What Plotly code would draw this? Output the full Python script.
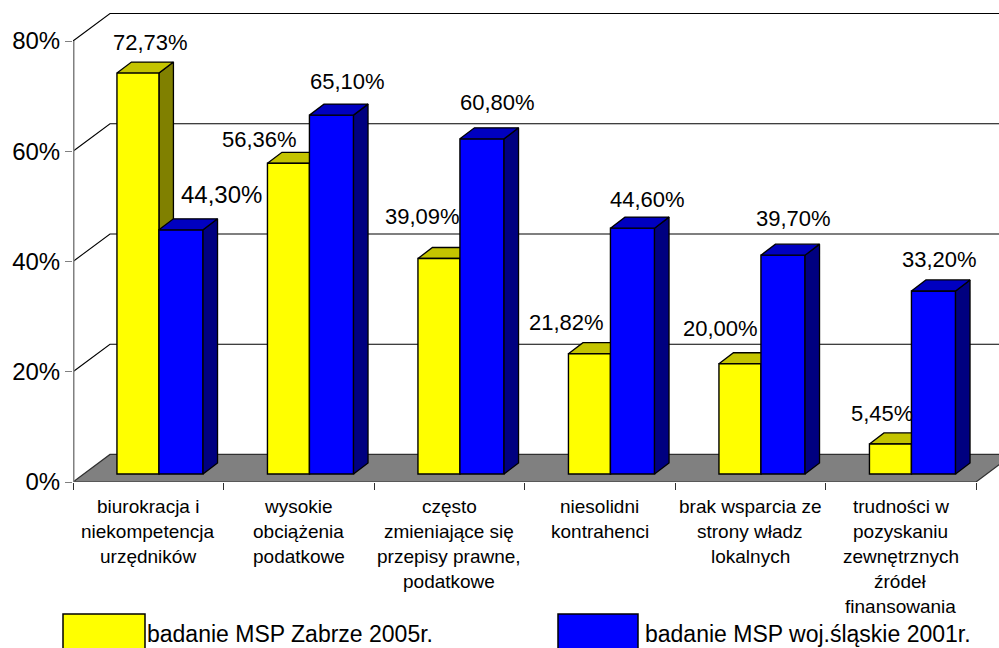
import plotly.graph_objects as go

categories = [
    ["biurokracja i", "niekompetencja", "urzędników"],
    ["wysokie", "obciążenia", "podatkowe"],
    ["często", "zmieniające się", "przepisy prawne,", "podatkowe"],
    ["niesolidni", "kontrahenci"],
    ["brak wsparcia ze", "strony władz", "lokalnych"],
    ["trudności w", "pozyskaniu", "zewnętrznych", "źródeł", "finansowania"],
]
zabrze_2005 = [72.73, 56.36, 39.09, 21.82, 20.00, 5.45]
slaskie_2001 = [44.30, 65.10, 60.80, 44.60, 39.70, 33.20]
series_names = ["badanie MSP Zabrze 2005r.", "badanie MSP woj.śląskie 2001r."]
y_ticks = [0, 20, 40, 60, 80]

# pseudo-3D geometry, in axis units
WALL_DX, WALL_DY = 0.2458, 5.0
BAR_DX, BAR_DY = 0.0963, 2.0
BAR_BASE = 1.45
Y_OFF, Y_W = -0.208, 0.279
B_OFF, B_W = 0.071, 0.293
X_MAX = 926 / 150.5
Y_MAX = 482 / 5.5125

# data-label nudges in px relative to the front-top-left of each bar
lab_y = [(34, 31), (-8, 24), (5, 42), (-2, 31), (2, 35), (13, 30)]
lab_b = [(63, 35), (38, 34), (38, 36), (37, 29), (33, 37), (28, 31)]

L, R, T, B = 73, 0, 0, 166
PW, PH = 999 - L - R, 648 - T - B
def px(x): return (x - L) / PW
def py(y): return 1 - (y - T) / PH

fig = go.Figure()

# walls
gx, gy = [], []
for v in y_ticks[1:]:
    gx += [0, WALL_DX, X_MAX, None]
    gy += [v, v + WALL_DY, v + WALL_DY, None]
fig.add_trace(go.Scatter(x=gx, y=gy, mode="lines", line=dict(color="black", width=1.1),
                         zorder=0, hoverinfo="skip"))
fig.add_trace(go.Scatter(x=[0, 6, 6 + WALL_DX, WALL_DX, 0], y=[0, 0, WALL_DY, WALL_DY, 0],
                         mode="lines", fill="toself", fillcolor="#808080",
                         line=dict(color="#303030", width=1.2), zorder=0, hoverinfo="skip"))
fig.add_trace(go.Scatter(x=[0, 0], y=[0, 80], mode="lines", line=dict(color="#808080", width=3),
                         zorder=0, hoverinfo="skip"))

def faces(vals, off, w, top_col, side_col, z):
    for i, v in enumerate(vals):
        x0 = i + 0.5 + off
        x1 = x0 + w
        t = v + BAR_BASE
        fig.add_trace(go.Scatter(
            x=[x1, x1 + BAR_DX, x1 + BAR_DX, x1, x1],
            y=[BAR_BASE, BAR_BASE + BAR_DY, t + BAR_DY, t, BAR_BASE],
            mode="lines", fill="toself", fillcolor=side_col, line=dict(color="black", width=1.3),
            zorder=z, hoverinfo="skip"))
        fig.add_trace(go.Scatter(
            x=[x0, x1, x1 + BAR_DX, x0 + BAR_DX, x0],
            y=[t, t, t + BAR_DY, t + BAR_DY, t],
            mode="lines", fill="toself", fillcolor=top_col, line=dict(color="black", width=1.3),
            zorder=z, hoverinfo="skip"))

centers = [i + 0.5 for i in range(6)]
faces(zabrze_2005, Y_OFF, Y_W, "#C4C400", "#808000", 1)
fig.add_trace(go.Bar(x=centers, y=zabrze_2005, base=BAR_BASE, offset=Y_OFF, width=Y_W, name=series_names[0],
                     marker=dict(color="#FFFF00", line=dict(color="black", width=1.4)), zorder=2))
fig.add_trace(go.Bar(x=centers, y=slaskie_2001, base=BAR_BASE, offset=B_OFF, width=B_W, name=series_names[1],
                     marker=dict(color="#0000FF", line=dict(color="black", width=1.4)), zorder=3))
faces(slaskie_2001, B_OFF, B_W, "#0000C0", "#000080", 4)

ann = []
def fmt(v): return f"{v:.2f}".replace(".", ",") + "%"
for i in range(6):
    dx, dy = lab_y[i]
    ann.append(dict(x=i + 0.5 + Y_OFF, y=zabrze_2005[i] + BAR_BASE, text=fmt(zabrze_2005[i]), xref="x", yref="y",
                    xshift=dx, yshift=dy, showarrow=False, font=dict(size=22)))
    dx, dy = lab_b[i]
    ann.append(dict(x=i + 0.5 + B_OFF, y=slaskie_2001[i] + BAR_BASE, text=fmt(slaskie_2001[i]), xref="x", yref="y",
                    xshift=dx, yshift=dy, showarrow=False, font=dict(size=24 if i == 0 else 22)))
    for j, line in enumerate(categories[i]):
        ann.append(dict(x=i + 0.5, y=0, text=line, xref="x", yref="y", yshift=-24 - 25 * j,
                        showarrow=False, font=dict(size=19)))
# legend
for name, sx0, sx1, col, tx in [(series_names[0], 63, 145, "#FFFF00", 147), (series_names[1], 558, 638, "#0000FF", 645)]:
    fig.add_shape(type="rect", xref="paper", yref="paper", x0=px(sx0), x1=px(sx1), y0=py(660), y1=py(614),
                  fillcolor=col, line=dict(color="black", width=1.5))
    ann.append(dict(x=px(tx), y=py(634), xref="paper", yref="paper", text=name, xanchor="left", yanchor="middle",
                    borderpad=0, borderwidth=0, showarrow=False, font=dict(size=23)))

fig.update_layout(
    width=999, height=648, margin=dict(l=L, r=R, t=T, b=B, autoexpand=False),
    paper_bgcolor="white", plot_bgcolor="white", showlegend=False, barmode="overlay",
    font=dict(family="Liberation Sans, Arial, sans-serif", color="black"),
    annotations=ann,
    xaxis=dict(range=[0, X_MAX], tickvals=list(range(7)), showticklabels=False, ticks="outside", ticklen=7,
               tickcolor="#303030", showline=False, showgrid=False, zeroline=False),
    yaxis=dict(range=[0, Y_MAX], tickvals=y_ticks, ticktext=[f"{v}%" for v in y_ticks], ticks="outside", ticklen=7,
               tickcolor="#808080", showline=False, showgrid=False, zeroline=False,
               tickfont=dict(size=24), ticklabelstandoff=0),
)
fig.write_html("out.html", config=dict(displayModeBar=False),
               post_script="document.body.style.margin='0';document.body.style.overflow='hidden';")
